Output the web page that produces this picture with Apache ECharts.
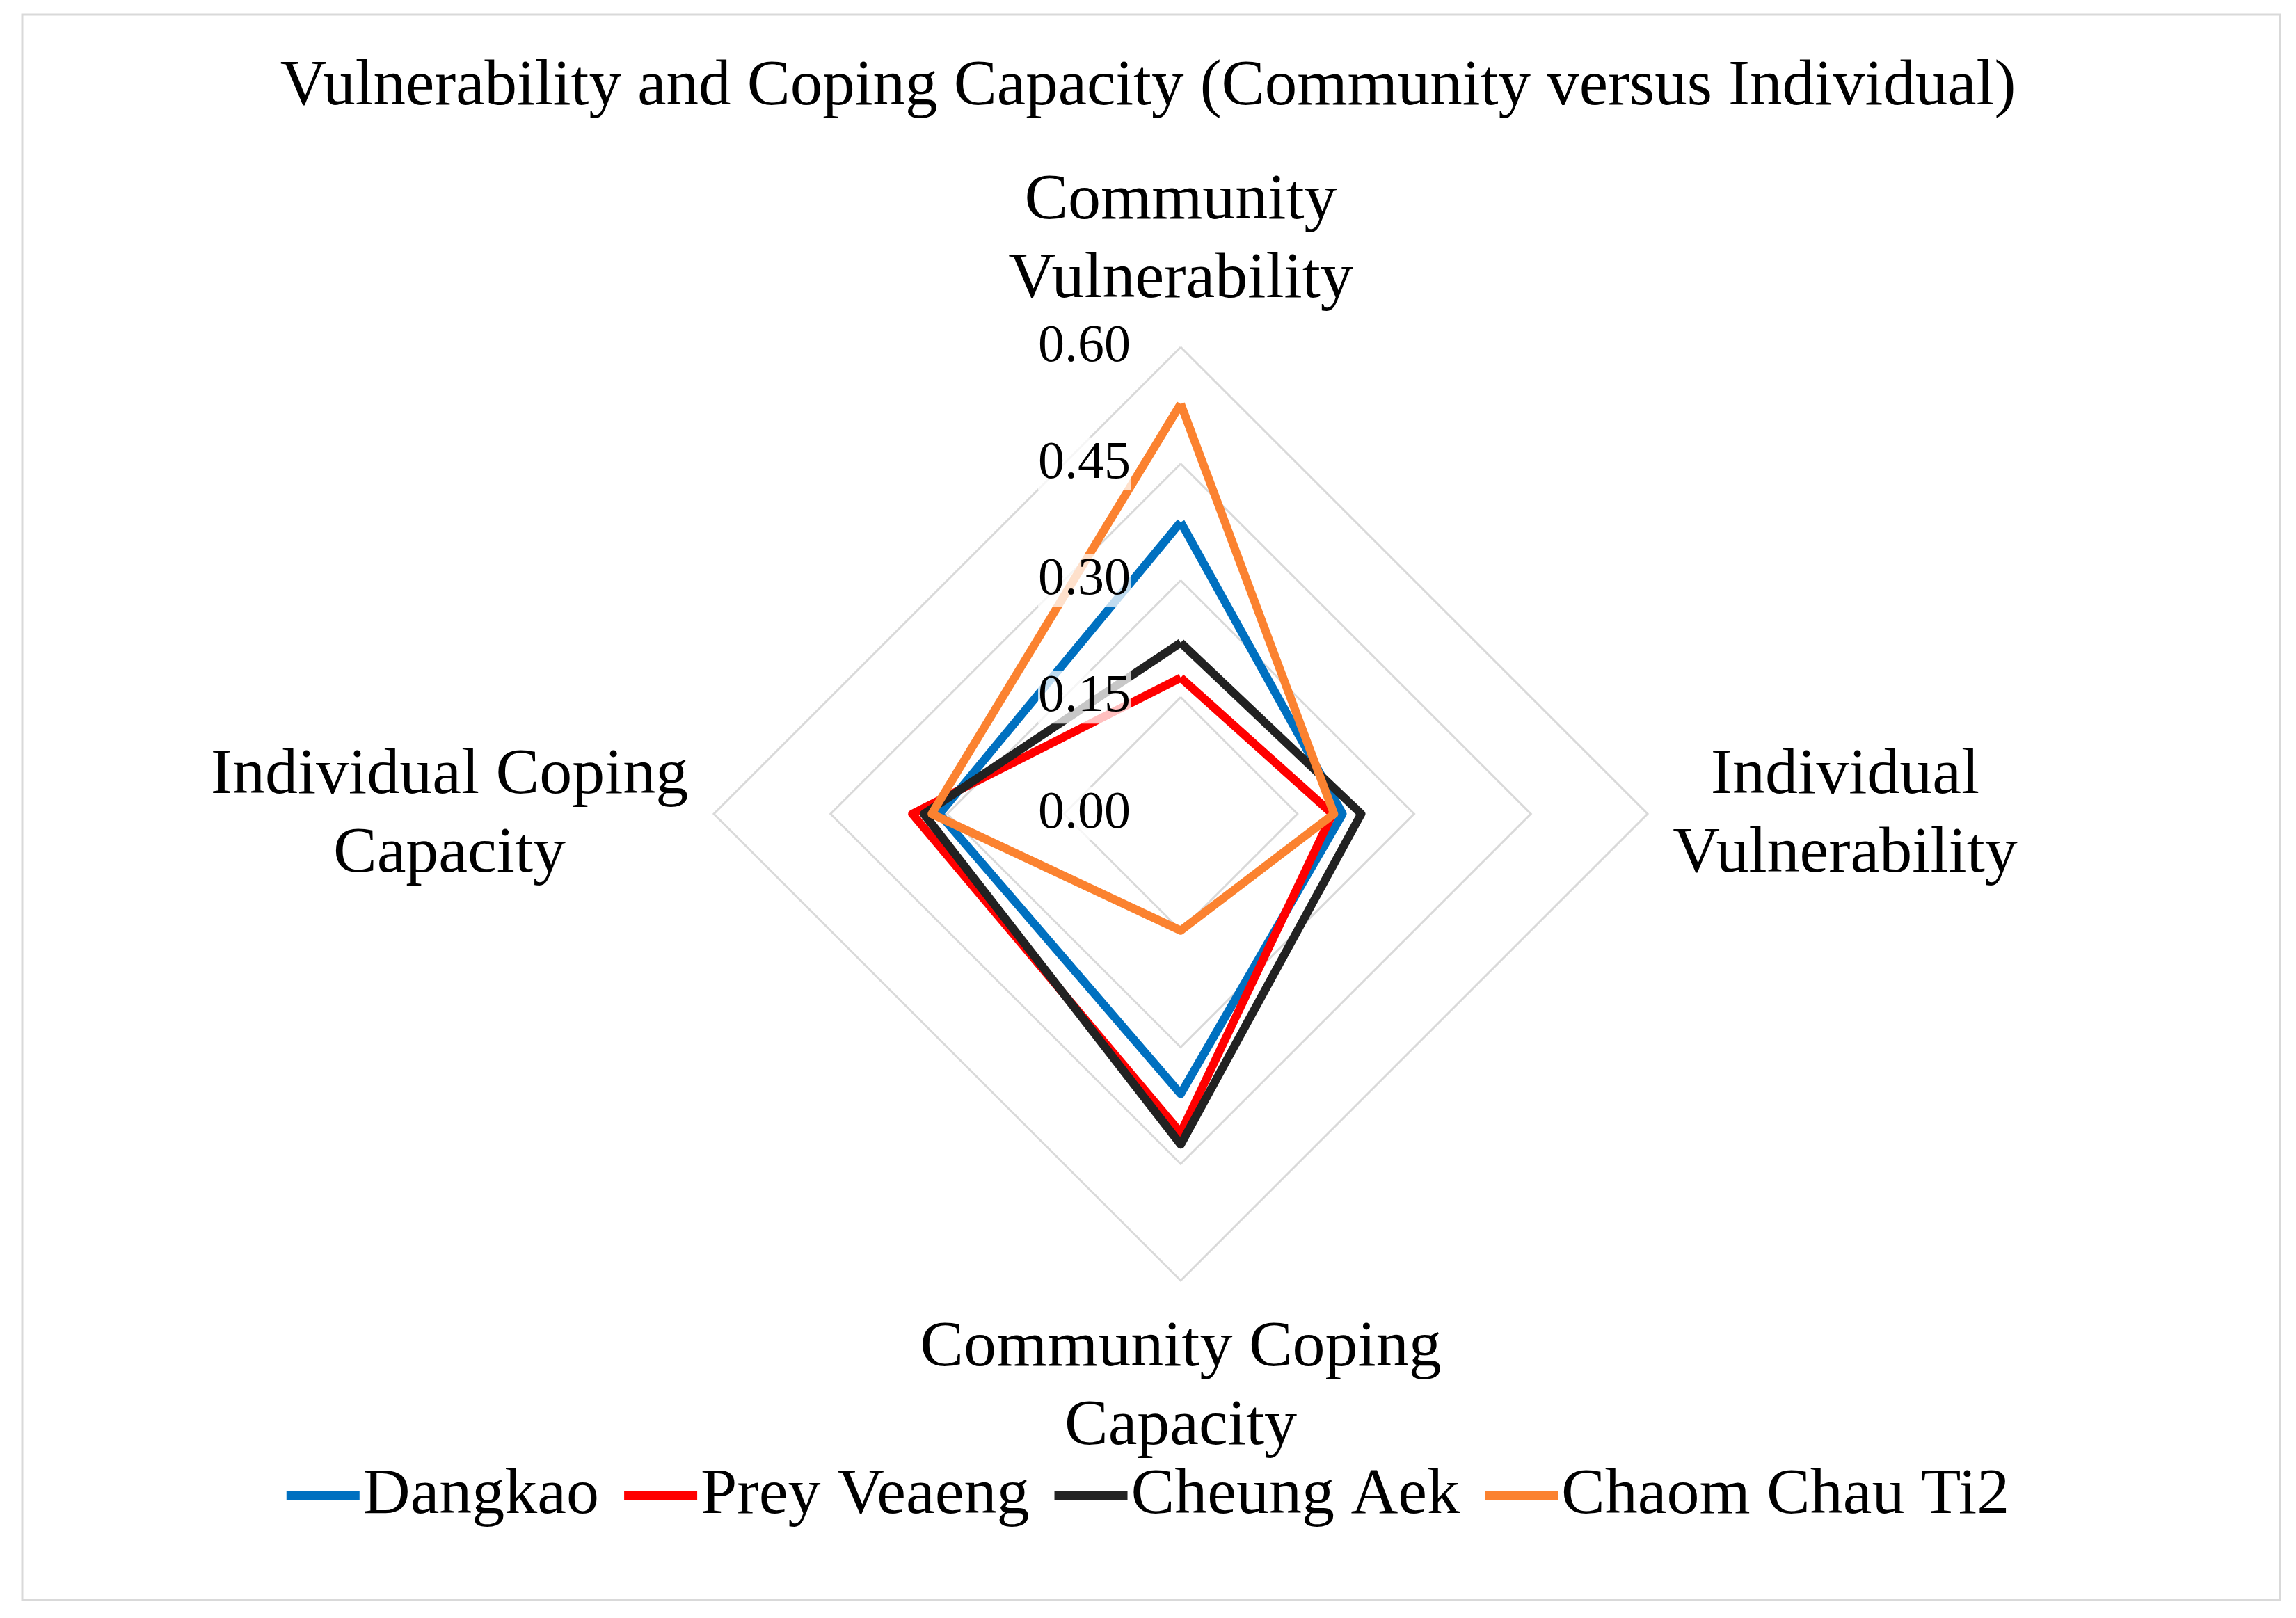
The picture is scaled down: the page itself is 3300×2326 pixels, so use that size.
<!DOCTYPE html>
<html>
<head>
<meta charset="utf-8">
<script src="https://cdn.jsdelivr.net/npm/echarts@6/dist/echarts.min.js"></script>
<style>
  html, body { margin: 0; padding: 0; background: #fff; }
  #chart { width: 3300px; height: 2326px; }
</style>
</head>
<body>
<div id="chart"></div>
<script>
// axes, in ECharts radar order (counter-clockwise from the top)
var categories = ['Community\nVulnerability', 'Individual Coping\nCapacity', 'Community Coping\nCapacity', 'Individual\nVulnerability'];
var tickValues = [0, 0.15, 0.30, 0.45, 0.60];

var seriesNames = ['Dangkao', 'Prey Veaeng', 'Cheung Aek', 'Chaom Chau Ti2'];
var dangkao = [0.375, 0.31, 0.36, 0.208];
var preyVeaeng = [0.175, 0.345, 0.41, 0.195];
var cheungAek = [0.22, 0.33, 0.425, 0.232];
var chaomChauTi2 = [0.527, 0.32, 0.15, 0.197];

var colors = ['#0070C0', '#FF0000', '#222222', '#FB8230'];
var FONT = '"Liberation Serif", "Times New Roman", serif';

// radar centre and radius (pixels)
var cx = 1697, cy = 1170, R = 671;

var chart = echarts.init(document.getElementById('chart'));

var values = [dangkao, preyVeaeng, cheungAek, chaomChauTi2];
var radarData = seriesNames.map(function (n, i) {
  return {
    name: n,
    value: values[i],
    lineStyle: { color: colors[i], width: 12 },
    itemStyle: { color: colors[i] }
  };
});

// axis names placed round the polygon
var namePos = [
  [cx, 346],
  [646, 1172],
  [cx, 1995],
  [2652, 1172]
];
var nameTexts = categories.map(function (c, i) {
  return {
    type: 'text',
    z: 20,
    style: {
      text: c,
      x: namePos[i][0],
      y: namePos[i][1],
      textAlign: 'center',
      textVerticalAlign: 'middle',
      fontFamily: FONT,
      fontSize: 94,
      lineHeight: 113,
      fill: '#000'
    }
  };
});

var option = {
  backgroundColor: '#fff',
  animation: false,
  title: {
    text: 'Vulnerability and Coping Capacity (Community versus Individual)',
    left: 'center',
    top: 74,
    textStyle: { fontFamily: FONT, fontSize: 93, fontWeight: 'normal', color: '#000' }
  },
  legend: {
    data: seriesNames,
    left: 'center',
    top: 2098,
    icon: 'rect',
    itemWidth: 105,
    itemHeight: 12,
    itemGap: 36,
    textStyle: { fontFamily: FONT, fontSize: 94, color: '#000' }
  },
  graphic: [{
    type: 'rect',
    shape: { x: 32, y: 21, width: 3245, height: 2279 },
    style: { fill: 'none', stroke: '#d9d9d9', lineWidth: 3 }
  }].concat(nameTexts),
  radar: {
    center: [cx, cy],
    radius: R,
    startAngle: 90,
    shape: 'polygon',
    splitNumber: 4,
    indicator: categories.map(function (c) { return { name: c, min: 0, max: 0.6 }; }),
    axisName: { show: false },
    axisLine: { show: false },
    axisTick: { show: false },
    axisLabel: { show: false },
    splitArea: { show: false },
    splitLine: { lineStyle: { color: '#d9d9d9', width: 3 } }
  },
  // value scale shown along the upper axis
  grid: { left: cx, top: cy - R, width: 1, height: R },
  xAxis: { type: 'value', show: false },
  yAxis: {
    type: 'value',
    min: 0,
    max: 0.6,
    interval: 0.15,
    z: 10,
    axisLine: { show: false },
    axisTick: { show: false },
    splitLine: { show: false },
    axisLabel: {
      margin: 72,
      fontFamily: FONT,
      fontSize: 76,
      color: '#000',
      backgroundColor: 'rgba(255,255,255,0.75)',
      formatter: function (v) { return v.toFixed(2); }
    }
  },
  series: [{
    type: 'radar',
    symbol: 'none',
    data: radarData
  }]
};

chart.setOption(option);
</script>
</body>
</html>
